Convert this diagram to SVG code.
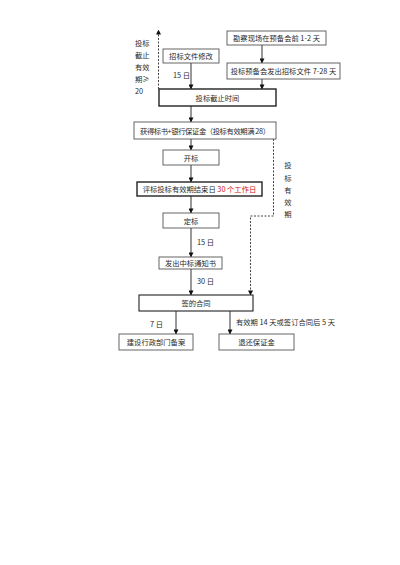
<svg xmlns="http://www.w3.org/2000/svg" width="400" height="565" viewBox="0 0 400 565">
<defs>
<marker id="ah" viewBox="0 0 6 6" refX="5.5" refY="3" markerWidth="5" markerHeight="5" orient="auto" markerUnits="userSpaceOnUse">
<path d="M0,0 L6,3 L0,6 z" fill="#111"/>
</marker>
<style>
text{font-family:"Noto Sans CJK SC","Noto Sans",sans-serif;font-size:7.3px;fill:#2a2a2a}
.c{text-anchor:middle;dominant-baseline:central}
.b{fill:#fff;stroke:#555;stroke-width:0.9}
.bt{fill:#fff;stroke:#222;stroke-width:1.4}
.ln{stroke:#333;stroke-width:1;fill:none;marker-end:url(#ah)}
.ds{stroke:#444;stroke-width:1;fill:none;stroke-dasharray:2,1.5;marker-end:url(#ah)}
.red{fill:#d01010}
</style>
</defs>
<rect width="400" height="565" fill="#fff"/>
<g id="connectors">
<path class="ln" d="M262,45 V63"/>
<path class="ln" d="M262,79 V89"/>
<path class="ln" d="M191,63 V89"/>
<path class="ln" d="M191,106 V122"/>
<path class="ln" d="M191,139 V150"/>
<path class="ln" d="M191,165 V182"/>
<path class="ln" d="M191,196 V213"/>
<path class="ln" d="M191,228 V257"/>
<path class="ln" d="M191,269 V295"/>
<path class="ln" d="M176,311 V334"/>
<path class="ln" d="M230,311 V334"/>
<path class="ds" d="M158.5,89 V30"/>
<path class="ds" d="M273.5,139 V216 H250.5 V295"/>
<text x="173" y="75" dominant-baseline="central">15 日</text>
<text x="197" y="242" dominant-baseline="central">15 日</text>
<text x="197" y="281" dominant-baseline="central">30 日</text>
<text x="150" y="324" dominant-baseline="central">7 日</text>
<text x="236" y="322" dominant-baseline="central">有效期 14 天或签订合同后 5 天</text>
<text x="135" y="43" dominant-baseline="central">投标</text>
<text x="135" y="55" dominant-baseline="central">截止</text>
<text x="135" y="67" dominant-baseline="central">有效</text>
<text x="135" y="79" dominant-baseline="central">期≥</text>
<text x="135" y="91" dominant-baseline="central">20</text>
<text x="288" y="165" class="c">投</text>
<text x="288" y="178" class="c">标</text>
<text x="288" y="190" class="c">有</text>
<text x="288" y="202" class="c">效</text>
<text x="288" y="214" class="c">期</text>
</g>
<g id="n1"><rect class="b" x="227" y="31" width="99" height="14"/><text class="c" x="276.5" y="38">勘察现场在预备会前 1-2 天</text></g>
<g id="n2"><rect class="b" x="227" y="63" width="113" height="16"/><text class="c" x="283.5" y="71">投标预备会发出招标文件 7-28 天</text></g>
<g id="n3"><rect class="b" x="163" y="49" width="56" height="14"/><text class="c" x="191" y="56">招标文件修改</text></g>
<g id="n4"><rect class="bt" x="159" y="89" width="117" height="17"/><text class="c" x="217.5" y="97.5">投标截止时间</text></g>
<g id="n5"><rect class="b" x="134" y="122" width="142" height="17"/><text class="c" x="205" y="130.5" textLength="130" lengthAdjust="spacing">获得标书+银行保证金（投标有效期满 28）</text></g>
<g id="n6"><rect class="b" x="163" y="150" width="56" height="15"/><text class="c" x="191" y="157.5">开标</text></g>
<g id="n7"><rect class="bt" x="137" y="182" width="125" height="14"/><text class="c" x="199.5" y="189">评标投标有效期结束日 <tspan class="red">30 个工作日</tspan></text></g>
<g id="n8"><rect class="b" x="163" y="213" width="56" height="15"/><text class="c" x="191" y="220.5">定标</text></g>
<g id="n9"><rect class="b" x="159" y="257" width="63" height="12"/><text class="c" x="190.5" y="263">发出中标通知书</text></g>
<g id="n10"><rect class="bt" x="139" y="295" width="114" height="16" style="stroke-width:1.1"/><text class="c" x="196" y="303">签的合同</text></g>
<g id="n11"><rect class="b" x="119" y="334" width="74" height="16"/><text class="c" x="156" y="342">建设行政部门备案</text></g>
<g id="n12"><rect class="b" x="219" y="334" width="75" height="16"/><text class="c" x="256.5" y="342">退还保证金</text></g>
</svg>
